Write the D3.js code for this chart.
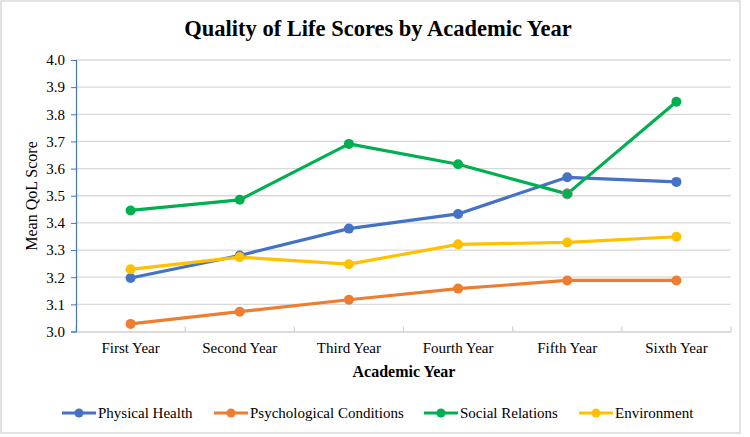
<!DOCTYPE html>
<html><head><meta charset="utf-8">
<script src="https://cdn.jsdelivr.net/npm/d3@7"></script>
<style>body{margin:0;background:#fff}svg{display:block}svg text{font-family:"Liberation Serif","Times New Roman",serif !important}</style>
</head><body><svg id="c" width="750" height="437"></svg>
<script>
const categories = ["First Year","Second Year","Third Year","Fourth Year","Fifth Year","Sixth Year"];
const seriesNames = ["Physical Health","Psychological Conditions","Social Relations","Environment"];
const physicalHealth = [3.197,3.280,3.379,3.433,3.568,3.551];
const psychological = [3.028,3.073,3.117,3.158,3.188,3.188];
const socialRelations = [3.446,3.485,3.691,3.616,3.507,3.846];
const environment = [3.229,3.274,3.248,3.321,3.328,3.349];
const yTicks = [3.0,3.1,3.2,3.3,3.4,3.5,3.6,3.7,3.8,3.9,4.0];
const colors = ["#4472C4","#ED7D31","#00B050","#FFC000"];
const series = [physicalHealth, psychological, socialRelations, environment];

(function(){
const FF = "'Liberation Serif', 'Times New Roman', serif";
const svg = d3.select("#c");
svg.append("rect").attr("x",1).attr("y",1).attr("width",739).attr("height",432)
  .attr("fill","#fff").attr("stroke","#d9d9d9").attr("stroke-width",1.5);

const pL=76, pR=731, pT=60, pB=331.5;
const x = d3.scaleBand().domain(categories).range([pL,pR]);
const y = d3.scaleLinear().domain([3.0,4.0]).range([pB,pT]);

// gridlines
svg.append("g").selectAll("line").data(yTicks.slice(1)).join("line")
  .attr("x1",pL).attr("x2",pR).attr("y1",d=>y(d)).attr("y2",d=>y(d))
  .attr("stroke","#d9d9d9").attr("stroke-width",1.3);

// x axis
const xa = svg.append("g").attr("transform",`translate(0,${pB})`)
  .call(d3.axisBottom(x).tickSize(0).tickPadding(11));
xa.attr("font-family",null);
xa.select(".domain").attr("stroke","#d0d0d0").attr("stroke-width",1.3);
xa.selectAll("text").attr("font-size",15).attr("fill","#000").style("font-family",FF);
svg.append("g").selectAll("line").data(d3.range(categories.length+1)).join("line")
  .attr("x1",i=>pL+i*x.step()).attr("x2",i=>pL+i*x.step()).attr("y1",pB).attr("y2",pB-5)
  .attr("stroke","#d0d0d0").attr("stroke-width",1.2);

// y axis
const ya = svg.append("g").attr("transform",`translate(${pL},0)`)
  .call(d3.axisLeft(y).tickValues(yTicks).tickFormat(d3.format(".1f")).tickSize(5).tickPadding(6));
ya.attr("font-family",null);
ya.select(".domain").attr("stroke","#4472C4").attr("stroke-width",1.2);
ya.selectAll(".tick line").attr("stroke","#4472C4");
ya.selectAll("text").attr("font-size",15).attr("fill","#000").style("font-family",FF);

// lines
const line = d3.line().x((d,i)=>x(categories[i])+x.bandwidth()/2).y(d=>y(d));
series.forEach((s,k)=>{
  svg.append("path").datum(s).attr("d",line).attr("fill","none").attr("stroke",colors[k])
    .attr("stroke-width",3.2).attr("stroke-linejoin","round");
});
series.forEach((s,k)=>{
  svg.append("g").selectAll("circle").data(s).join("circle")
    .attr("cx",(d,i)=>x(categories[i])+x.bandwidth()/2).attr("cy",d=>y(d)).attr("r",5)
    .attr("fill",colors[k])
    .attr("stroke",(d,i)=> (k===2 && i===4) ? "#8c8c8c" : "none").attr("stroke-width",1);
});

// title
svg.append("text").attr("x",378).attr("y",36).attr("text-anchor","middle").style("font-family",FF)
  .attr("font-size",22.5).attr("font-weight","bold").text("Quality of Life Scores by Academic Year");
svg.append("text").attr("x",404).attr("y",377).attr("text-anchor","middle").style("font-family",FF)
  .attr("font-size",16).attr("font-weight","bold").text("Academic Year");
svg.append("text").attr("transform","translate(37,196) rotate(-90)").attr("text-anchor","middle").style("font-family",FF)
  .attr("font-size",16).text("Mean QoL Score");

// legend
const legX = [62,214,424,579];
seriesNames.forEach((n,k)=>{
  const g = svg.append("g").attr("transform",`translate(${legX[k]},413)`);
  g.append("line").attr("x1",0).attr("x2",34).attr("y1",0).attr("y2",0).attr("stroke",colors[k]).attr("stroke-width",3.2);
  g.append("circle").attr("cx",17).attr("cy",0).attr("r",4.5).attr("fill",colors[k]);
  g.append("text").attr("x",36).attr("y",5).attr("font-size",15).style("font-family",FF).text(n);
});
})();
</script></body></html>
